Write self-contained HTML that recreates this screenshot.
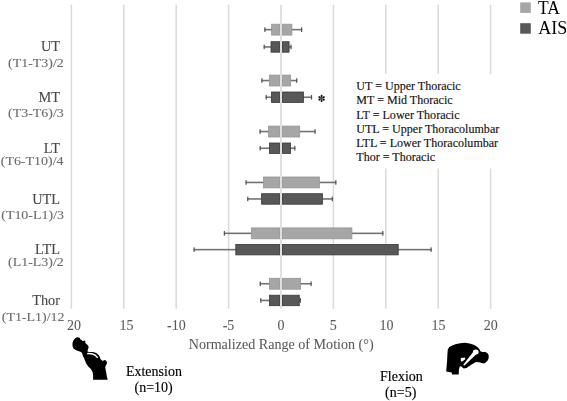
<!DOCTYPE html>
<html><head><meta charset="utf-8"><style>
html,body{margin:0;padding:0;background:#fff;width:567px;height:401px;overflow:hidden}
svg{display:block;filter:blur(0.3px);font-family:"Liberation Serif",serif}
</style></head><body>
<svg width="567" height="401" viewBox="0 0 567 401">
<rect x="70.65" y="4.7" width="1.5" height="304.0" fill="#dadada"/>
<rect x="123.05" y="4.7" width="1.5" height="304.0" fill="#dadada"/>
<rect x="175.45" y="4.7" width="1.5" height="304.0" fill="#dadada"/>
<rect x="227.85" y="4.7" width="1.5" height="304.0" fill="#dadada"/>
<rect x="332.65" y="4.7" width="1.5" height="304.0" fill="#dadada"/>
<rect x="385.05" y="4.7" width="1.5" height="304.0" fill="#dadada"/>
<rect x="437.45" y="4.7" width="1.5" height="304.0" fill="#dadada"/>
<rect x="489.85" y="4.7" width="1.5" height="304.0" fill="#dadada"/>
<rect x="264.30" y="28.85" width="37.90" height="1.6" fill="#737373"/>
<rect x="264.30" y="27.35" width="1.2" height="4.6" fill="#555555"/>
<rect x="301.00" y="27.35" width="1.2" height="4.6" fill="#555555"/>
<rect x="271.60" y="24.20" width="8.00" height="10.90" fill="#a6a6a6" stroke="#969696" stroke-width="0.8"/>
<rect x="282.40" y="24.20" width="9.50" height="10.90" fill="#a6a6a6" stroke="#969696" stroke-width="0.8"/>
<rect x="263.60" y="46.15" width="28.00" height="1.6" fill="#737373"/>
<rect x="263.60" y="44.65" width="1.2" height="4.6" fill="#555555"/>
<rect x="290.40" y="44.65" width="1.2" height="4.6" fill="#555555"/>
<rect x="271.00" y="41.70" width="8.60" height="10.50" fill="#585858" stroke="#3a3a3a" stroke-width="0.8"/>
<rect x="282.40" y="41.70" width="6.70" height="10.50" fill="#585858" stroke="#3a3a3a" stroke-width="0.8"/>
<rect x="261.30" y="79.75" width="36.00" height="1.6" fill="#737373"/>
<rect x="261.30" y="78.25" width="1.2" height="4.6" fill="#555555"/>
<rect x="296.10" y="78.25" width="1.2" height="4.6" fill="#555555"/>
<rect x="269.40" y="75.10" width="10.20" height="10.90" fill="#a6a6a6" stroke="#969696" stroke-width="0.8"/>
<rect x="282.40" y="75.10" width="8.20" height="10.90" fill="#a6a6a6" stroke="#969696" stroke-width="0.8"/>
<rect x="265.60" y="96.45" width="46.50" height="1.6" fill="#737373"/>
<rect x="265.60" y="94.95" width="1.2" height="4.6" fill="#555555"/>
<rect x="310.90" y="94.95" width="1.2" height="4.6" fill="#555555"/>
<rect x="271.50" y="92.00" width="8.10" height="10.50" fill="#585858" stroke="#3a3a3a" stroke-width="0.8"/>
<rect x="282.40" y="92.00" width="21.10" height="10.50" fill="#585858" stroke="#3a3a3a" stroke-width="0.8"/>
<rect x="259.50" y="130.75" width="56.10" height="1.6" fill="#737373"/>
<rect x="259.50" y="129.25" width="1.2" height="4.6" fill="#555555"/>
<rect x="314.40" y="129.25" width="1.2" height="4.6" fill="#555555"/>
<rect x="268.50" y="126.10" width="11.10" height="10.90" fill="#a6a6a6" stroke="#969696" stroke-width="0.8"/>
<rect x="282.40" y="126.10" width="17.30" height="10.90" fill="#a6a6a6" stroke="#969696" stroke-width="0.8"/>
<rect x="259.60" y="147.45" width="35.80" height="1.6" fill="#737373"/>
<rect x="259.60" y="145.95" width="1.2" height="4.6" fill="#555555"/>
<rect x="294.20" y="145.95" width="1.2" height="4.6" fill="#555555"/>
<rect x="269.40" y="143.00" width="10.20" height="10.50" fill="#585858" stroke="#3a3a3a" stroke-width="0.8"/>
<rect x="282.40" y="143.00" width="8.10" height="10.50" fill="#585858" stroke="#3a3a3a" stroke-width="0.8"/>
<rect x="245.50" y="181.65" width="90.90" height="1.6" fill="#737373"/>
<rect x="245.50" y="180.15" width="1.2" height="4.6" fill="#555555"/>
<rect x="335.20" y="180.15" width="1.2" height="4.6" fill="#555555"/>
<rect x="263.50" y="177.00" width="16.10" height="10.90" fill="#a6a6a6" stroke="#969696" stroke-width="0.8"/>
<rect x="282.40" y="177.00" width="37.00" height="10.90" fill="#a6a6a6" stroke="#969696" stroke-width="0.8"/>
<rect x="247.20" y="198.15" width="85.70" height="1.6" fill="#737373"/>
<rect x="247.20" y="196.65" width="1.2" height="4.6" fill="#555555"/>
<rect x="331.70" y="196.65" width="1.2" height="4.6" fill="#555555"/>
<rect x="261.60" y="193.70" width="18.00" height="10.50" fill="#585858" stroke="#3a3a3a" stroke-width="0.8"/>
<rect x="282.40" y="193.70" width="40.00" height="10.50" fill="#585858" stroke="#3a3a3a" stroke-width="0.8"/>
<rect x="223.80" y="232.55" width="159.60" height="1.6" fill="#737373"/>
<rect x="223.80" y="231.05" width="1.2" height="4.6" fill="#555555"/>
<rect x="382.20" y="231.05" width="1.2" height="4.6" fill="#555555"/>
<rect x="251.40" y="227.90" width="28.20" height="10.90" fill="#a6a6a6" stroke="#969696" stroke-width="0.8"/>
<rect x="282.40" y="227.90" width="69.50" height="10.90" fill="#a6a6a6" stroke="#969696" stroke-width="0.8"/>
<rect x="193.50" y="248.85" width="238.20" height="1.6" fill="#737373"/>
<rect x="193.50" y="247.35" width="1.2" height="4.6" fill="#555555"/>
<rect x="430.50" y="247.35" width="1.2" height="4.6" fill="#555555"/>
<rect x="235.80" y="244.40" width="43.80" height="10.50" fill="#585858" stroke="#3a3a3a" stroke-width="0.8"/>
<rect x="282.40" y="244.40" width="115.80" height="10.50" fill="#585858" stroke="#3a3a3a" stroke-width="0.8"/>
<rect x="259.70" y="282.95" width="52.00" height="1.6" fill="#737373"/>
<rect x="259.70" y="281.45" width="1.2" height="4.6" fill="#555555"/>
<rect x="310.50" y="281.45" width="1.2" height="4.6" fill="#555555"/>
<rect x="269.50" y="278.30" width="10.10" height="10.90" fill="#a6a6a6" stroke="#969696" stroke-width="0.8"/>
<rect x="282.40" y="278.30" width="18.20" height="10.90" fill="#a6a6a6" stroke="#969696" stroke-width="0.8"/>
<rect x="260.20" y="299.65" width="40.80" height="1.6" fill="#737373"/>
<rect x="260.20" y="298.15" width="1.2" height="4.6" fill="#555555"/>
<rect x="299.80" y="298.15" width="1.2" height="4.6" fill="#555555"/>
<rect x="269.50" y="295.20" width="10.10" height="10.50" fill="#585858" stroke="#3a3a3a" stroke-width="0.8"/>
<rect x="282.40" y="295.20" width="16.90" height="10.50" fill="#585858" stroke="#3a3a3a" stroke-width="0.8"/>
<rect x="280" y="4.7" width="2" height="304.0" fill="#e0e0e0"/>
<g transform="translate(321.6,98.4)" fill="#111"><circle r="0.6" fill="#444"/><path d="M0.4,0 C1.0,-0.25 1.7,-0.95 2.5,-0.95 C3.2,-0.95 3.6,-0.5 3.6,0 C3.6,0.5 3.2,0.95 2.5,0.95 C1.7,0.95 1.0,0.25 0.4,0 Z" transform="rotate(90)"/><path d="M0.4,0 C1.0,-0.25 1.7,-0.95 2.5,-0.95 C3.2,-0.95 3.6,-0.5 3.6,0 C3.6,0.5 3.2,0.95 2.5,0.95 C1.7,0.95 1.0,0.25 0.4,0 Z" transform="rotate(30)"/><path d="M0.4,0 C1.0,-0.25 1.7,-0.95 2.5,-0.95 C3.2,-0.95 3.6,-0.5 3.6,0 C3.6,0.5 3.2,0.95 2.5,0.95 C1.7,0.95 1.0,0.25 0.4,0 Z" transform="rotate(150)"/><path d="M0.4,0 C1.0,-0.25 1.7,-0.95 2.5,-0.95 C3.2,-0.95 3.6,-0.5 3.6,0 C3.6,0.5 3.2,0.95 2.5,0.95 C1.7,0.95 1.0,0.25 0.4,0 Z" transform="rotate(270)"/><path d="M0.4,0 C1.0,-0.25 1.7,-0.95 2.5,-0.95 C3.2,-0.95 3.6,-0.5 3.6,0 C3.6,0.5 3.2,0.95 2.5,0.95 C1.7,0.95 1.0,0.25 0.4,0 Z" transform="rotate(210)"/><path d="M0.4,0 C1.0,-0.25 1.7,-0.95 2.5,-0.95 C3.2,-0.95 3.6,-0.5 3.6,0 C3.6,0.5 3.2,0.95 2.5,0.95 C1.7,0.95 1.0,0.25 0.4,0 Z" transform="rotate(330)"/></g>
<text x="73.90" y="330.00" font-size="14.0" text-anchor="middle" stroke="#595959" stroke-width="0.05" fill="#595959">20</text>
<text x="126.40" y="330.00" font-size="14.0" text-anchor="middle" stroke="#595959" stroke-width="0.05" fill="#595959">15</text>
<text x="176.35" y="330.00" font-size="14.0" text-anchor="middle" stroke="#595959" stroke-width="0.05" fill="#595959">-10</text>
<text x="228.50" y="330.00" font-size="14.0" text-anchor="middle" stroke="#595959" stroke-width="0.05" fill="#595959">-5</text>
<text x="281.00" y="330.00" font-size="14.0" text-anchor="middle" stroke="#595959" stroke-width="0.05" fill="#595959">0</text>
<text x="333.25" y="330.00" font-size="14.0" text-anchor="middle" stroke="#595959" stroke-width="0.05" fill="#595959">5</text>
<text x="386.40" y="330.00" font-size="14.0" text-anchor="middle" stroke="#595959" stroke-width="0.05" fill="#595959">10</text>
<text x="438.40" y="330.00" font-size="14.0" text-anchor="middle" stroke="#595959" stroke-width="0.05" fill="#595959">15</text>
<text x="490.70" y="330.00" font-size="14.0" text-anchor="middle" stroke="#595959" stroke-width="0.05" fill="#595959">20</text>
<text transform="translate(60.00,50.80) scale(1.04,1)" font-size="13.8" text-anchor="end" stroke="#484848" stroke-width="0.1" fill="#484848">UT</text>
<text transform="translate(63.80,66.70) scale(1.035,1)" font-size="13.5" text-anchor="end" stroke="#6b6b6b" stroke-width="0.1" fill="#6b6b6b">(T1-T3)/2</text>
<text transform="translate(60.00,101.60) scale(1.04,1)" font-size="13.8" text-anchor="end" stroke="#484848" stroke-width="0.1" fill="#484848">MT</text>
<text transform="translate(63.80,116.90) scale(1.035,1)" font-size="13.5" text-anchor="end" stroke="#6b6b6b" stroke-width="0.1" fill="#6b6b6b">(T3-T6)/3</text>
<text transform="translate(60.00,152.60) scale(1.04,1)" font-size="13.8" text-anchor="end" stroke="#484848" stroke-width="0.1" fill="#484848">LT</text>
<text transform="translate(63.50,165.40) scale(1.035,1)" font-size="13.5" text-anchor="end" stroke="#6b6b6b" stroke-width="0.1" fill="#6b6b6b">(T6-T10)/4</text>
<text transform="translate(60.00,203.60) scale(1.04,1)" font-size="13.8" text-anchor="end" stroke="#484848" stroke-width="0.1" fill="#484848">UTL</text>
<text transform="translate(64.00,218.60) scale(1.035,1)" font-size="13.5" text-anchor="end" stroke="#6b6b6b" stroke-width="0.1" fill="#6b6b6b">(T10-L1)/3</text>
<text transform="translate(60.00,253.90) scale(1.04,1)" font-size="13.8" text-anchor="end" stroke="#484848" stroke-width="0.1" fill="#484848">LTL</text>
<text transform="translate(63.80,266.30) scale(1.035,1)" font-size="13.5" text-anchor="end" stroke="#6b6b6b" stroke-width="0.1" fill="#6b6b6b">(L1-L3)/2</text>
<text transform="translate(60.00,305.00) scale(1.04,1)" font-size="13.8" text-anchor="end" stroke="#484848" stroke-width="0.1" fill="#484848">Thor</text>
<text transform="translate(64.50,320.60) scale(1.035,1)" font-size="13.5" text-anchor="end" stroke="#6b6b6b" stroke-width="0.1" fill="#6b6b6b">(T1-L1)/12</text>
<rect x="345" y="74" width="160" height="94.5" fill="#fff"/>
<text x="356.30" y="90.10" font-size="12.05" stroke="#111111" stroke-width="0.14" fill="#111111">UT = Upper Thoracic</text>
<text x="356.30" y="104.35" font-size="12.05" stroke="#111111" stroke-width="0.14" fill="#111111">MT = Mid Thoracic</text>
<text x="356.30" y="118.60" font-size="12.05" stroke="#111111" stroke-width="0.14" fill="#111111">LT = Lower Thoracic</text>
<text x="356.30" y="132.85" font-size="12.05" stroke="#111111" stroke-width="0.14" fill="#111111">UTL = Upper Thoracolumbar</text>
<text x="356.30" y="147.10" font-size="12.05" stroke="#111111" stroke-width="0.14" fill="#111111">LTL = Lower Thoracolumbar</text>
<text x="356.30" y="161.35" font-size="12.05" stroke="#111111" stroke-width="0.14" fill="#111111">Thor = Thoracic</text>
<rect x="520.2" y="2.4" width="10.6" height="10.5" fill="#a6a6a6"/>
<rect x="520.2" y="23.2" width="10.6" height="10.5" fill="#585858"/>
<text transform="translate(537.90,13.60) scale(0.96,1)" font-size="18.3" fill="#000">TA</text>
<text transform="translate(538.20,34.40) scale(0.985,1)" font-size="18.3" fill="#000">AIS</text>
<text x="281.20" y="349.10" font-size="14.1" text-anchor="middle" stroke="#595959" stroke-width="0.05" fill="#595959">Normalized Range of Motion (°)</text>
<text transform="translate(153.90,375.50) scale(1.03,1)" font-size="13.6" text-anchor="middle" stroke="#000" stroke-width="0.15" fill="#000">Extension</text>
<text transform="translate(153.60,391.90) scale(1.03,1)" font-size="13.6" text-anchor="middle" stroke="#000" stroke-width="0.15" fill="#000">(n=10)</text>
<text transform="translate(401.40,380.50) scale(1.03,1)" font-size="13.6" text-anchor="middle" stroke="#000" stroke-width="0.15" fill="#000">Flexion</text>
<text transform="translate(400.70,397.00) scale(1.03,1)" font-size="13.6" text-anchor="middle" stroke="#000" stroke-width="0.15" fill="#000">(n=5)</text>
<path d="M76.6,337.4 C77.5,337.1 78.8,337.2 79.9,338.1 L80.4,339.5 L81.8,340 L82.3,341.1 L83.4,340.9 L84.6,340.5 L85.5,341.5 L85.2,342.9 L85.6,343.3 L87,344.4 L88.1,345.5 L88.7,347.2 L88.1,348.8 L87.6,350.5 L87.6,351.6 L89,351.9 L93.2,351.9 L96.2,353.1 L98.6,354.9 L99.8,357 L100.4,359.1 L101.6,360 L102.8,360.9 L104,360.3 L105.2,360 L106.7,361.5 L107,363 L106.6,364.2 L105.7,365.8 L105.2,367.5 L105.5,369.1 L106.3,373 L106.8,376.3 L107.7,379.8 L93.1,379.8 L93.1,375.2 L92.6,371.9 L90.9,369.1 L88.2,366.4 L86,363.1 L84,358 L82.9,356 L82.1,353.2 L81,352.1 L78.2,351 L75.5,349.9 L73.3,348.3 L72.5,346.1 L72.5,343.3 L73.3,340.6 L74.9,338.4 Z" fill="#000"/>
<path d="M87.2,353.7 C89,353.3 91,353.5 92.6,354 C94.5,354.6 96.2,355.6 97.7,357.9" stroke="#fff" stroke-width="1.4" fill="none"/>
<path d="M447.8,349.5 L449.2,347.1 L451.6,345.7 L455.4,344.3 L460.1,343.3 L464.9,342.8 L469.6,343.6 L473.6,344.8 L476.8,346.4 L479.2,348.8 L480.4,351.2 L482.3,352 L485.5,352 L487.5,353.2 L488.7,355.2 L488.6,358.4 L487.5,360.8 L485.5,362.7 L483.9,363.5 L481.5,363.1 L479.2,362.3 L476,361.9 L472,364.2 L468.7,366.4 L466.5,368.1 L463.8,368.5 L462.1,367.3 L461,366.3 L459.8,366.5 L458.9,369.7 L458.7,374.4 L452,374.4 L451.7,372.6 L446.2,371.4 L446.6,366.5 L447.1,360.9 L447.4,354.2 Z" fill="#000"/>
<ellipse cx="475.8" cy="351.9" rx="2.9" ry="2.5" fill="#fff"/>
<path d="M473.7,351.3 L476.6,353.9 L464.75,365.2 L463.65,364.2 Z" fill="#fff"/>
<circle cx="464.2" cy="364.7" r="0.75" fill="#fff"/>
<path d="M460.8,357.9 L464.9,357.5 L465.3,359.2 L462.1,361.6 L460.9,361.2 Z" fill="#fff"/>
</svg>
</body></html>
